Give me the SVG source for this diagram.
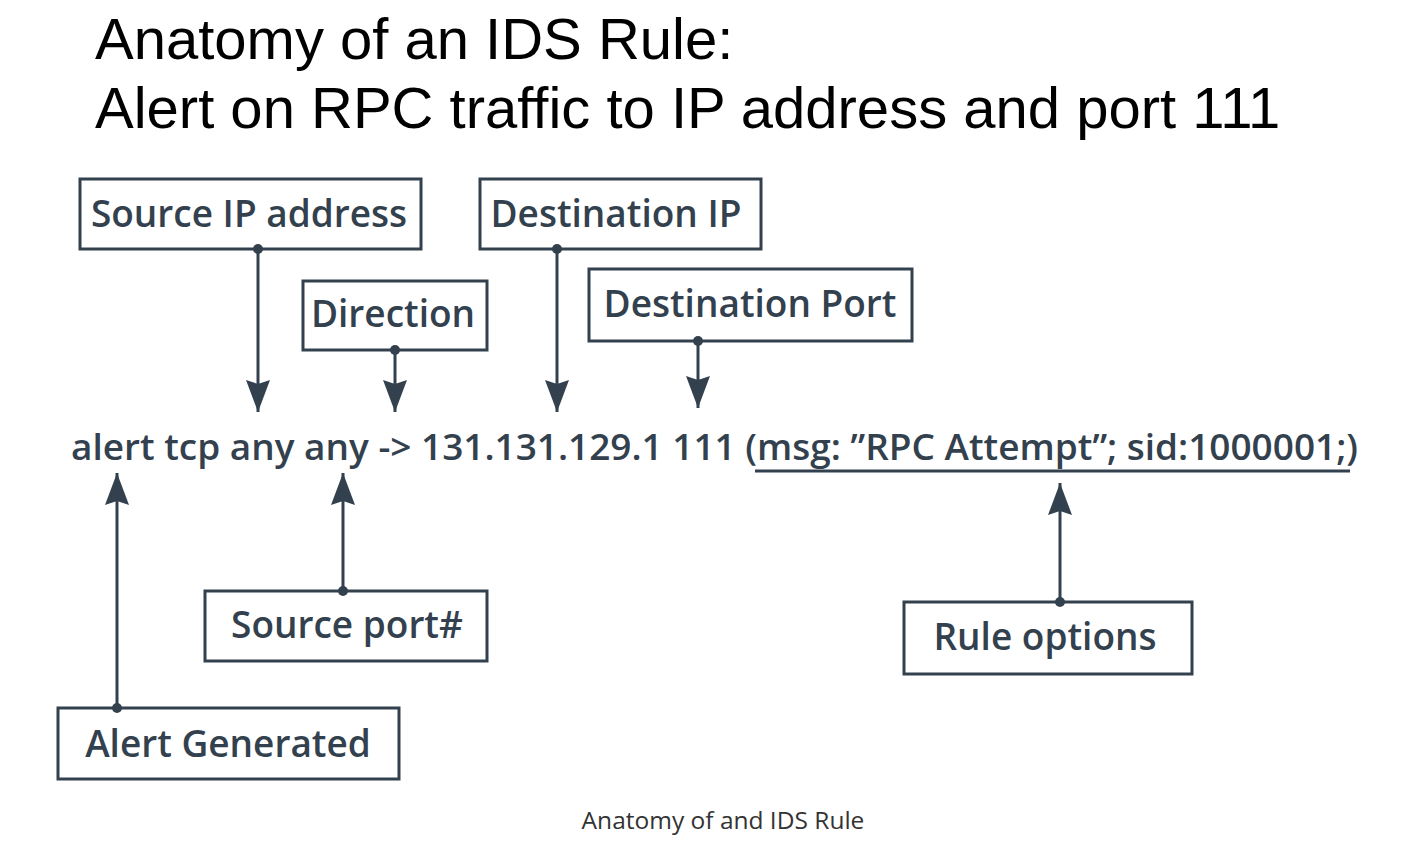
<svg xmlns="http://www.w3.org/2000/svg" width="1422" height="847" viewBox="0 0 1422 847">
<defs>
<marker id="ah" markerWidth="32" markerHeight="24" refX="32" refY="12" orient="auto" markerUnits="userSpaceOnUse" viewBox="0 0 32 24">
<path d="M0,0 L32,12 L0,24 L4,12 Z" fill="#33414e"/>
</marker>
<marker id="dot" markerWidth="10" markerHeight="10" refX="5" refY="5" markerUnits="userSpaceOnUse" viewBox="0 0 10 10">
<circle cx="5" cy="5" r="5" fill="#33414e"/>
</marker>
<style>
.title{font-family:"Liberation Sans",Arial,sans-serif;font-size:58px;fill:#000}
.box rect{fill:#fff;stroke:#33414e;stroke-width:3}
.box text{font-family:"Open Sans","Noto Sans",sans-serif;font-weight:600;font-size:37px;fill:#33414e;text-anchor:middle}
.rule{font-family:"Open Sans","Noto Sans",sans-serif;font-weight:600;font-size:36px;fill:#33414e}
.conn line{stroke:#33414e;stroke-width:3}
.cap{font-family:"Open Sans","Noto Sans",sans-serif;font-size:24.5px;fill:#333;text-anchor:middle}
</style>
</defs>
<rect width="1422" height="847" fill="#fff"/>
<text class="title" x="95" y="59">Anatomy of an IDS Rule:</text>
<text class="title" x="95" y="128">Alert on RPC traffic to IP address and port 111</text>

<g id="node-source-ip" class="box"><rect x="80" y="179" width="341" height="70"/><text x="249" y="227">Source IP address</text></g>
<g id="node-dest-ip" class="box"><rect x="480" y="179" width="281" height="70"/><text x="616" y="227">Destination IP</text></g>
<g id="node-direction" class="box"><rect x="303" y="281" width="184" height="69"/><text x="393" y="327">Direction</text></g>
<g id="node-dest-port" class="box"><rect x="589" y="269" width="323" height="72"/><text x="750" y="317">Destination Port</text></g>
<g id="node-source-port" class="box"><rect x="205" y="591" width="282" height="70"/><text x="347" y="638">Source port#</text></g>
<g id="node-alert" class="box"><rect x="58" y="708" width="341" height="71"/><text x="228" y="757">Alert Generated</text></g>
<g id="node-rule-options" class="box"><rect x="904" y="602" width="288" height="72"/><text x="1045" y="650">Rule options</text></g>

<g id="rule-text">
<text class="rule" x="71" y="460" textLength="1287" lengthAdjust="spacingAndGlyphs">alert tcp any any -&gt; 131.131.129.1 111 (msg: ”RPC Attempt”; sid:1000001;)</text>
<line x1="755" y1="471" x2="1350" y2="471" stroke="#33414e" stroke-width="3"/>
</g>

<g id="connectors" class="conn">
<line x1="258" y1="249" x2="258" y2="412" marker-start="url(#dot)" marker-end="url(#ah)"/>
<line x1="395" y1="350" x2="395" y2="412" marker-start="url(#dot)" marker-end="url(#ah)"/>
<line x1="557" y1="249" x2="557" y2="412" marker-start="url(#dot)" marker-end="url(#ah)"/>
<line x1="698" y1="341" x2="698" y2="408" marker-start="url(#dot)" marker-end="url(#ah)"/>
<line x1="117" y1="708" x2="117" y2="473" marker-start="url(#dot)" marker-end="url(#ah)"/>
<line x1="343" y1="591" x2="343" y2="473" marker-start="url(#dot)" marker-end="url(#ah)"/>
<line x1="1060" y1="602" x2="1060" y2="483" marker-start="url(#dot)" marker-end="url(#ah)"/>
</g>

<text class="cap" x="723" y="829">Anatomy of and IDS Rule</text>
</svg>
